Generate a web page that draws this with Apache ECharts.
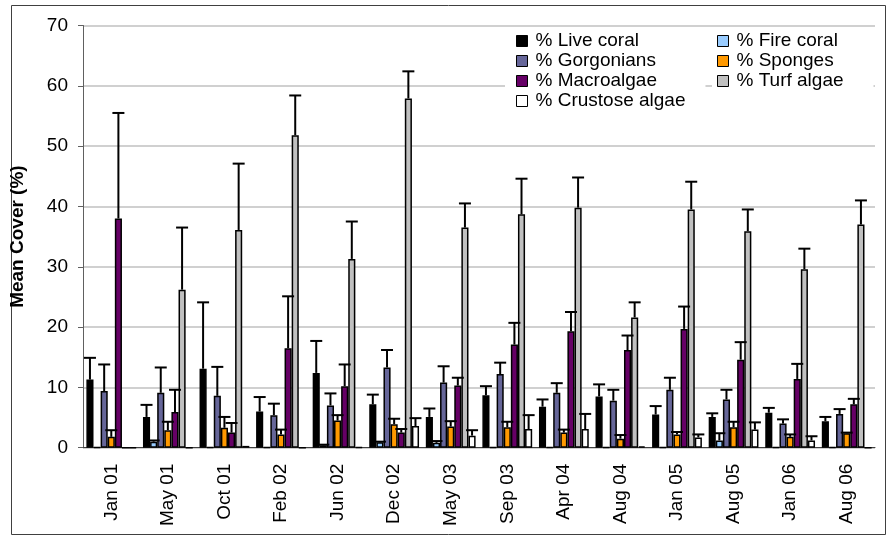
<!DOCTYPE html>
<html>
<head>
<meta charset="utf-8">
<script src="https://cdn.jsdelivr.net/npm/echarts@6/dist/echarts.min.js"></script>
<style>
  html, body { margin: 0; padding: 0; background: #fff; }
  #chart { width: 891px; height: 539px; }
</style>
</head>
<body>
<div id="chart"></div>
<script>
// survey dates
const categories = ['Jan 01', 'May 01', 'Oct 01', 'Feb 02', 'Jun 02', 'Dec 02', 'May 03',
                    'Sep 03', 'Apr 04', 'Aug 04', 'Jan 05', 'Aug 05', 'Jan 06', 'Aug 06'];

// mean cover (%) and standard error (upper bar only)
const liveCoral      = [11.3, 5.1, 13.1, 6.0, 12.4, 7.2, 5.1, 8.7, 6.8, 8.5, 5.5, 5.1, 5.8, 4.4];
const liveCoralSE    = [3.6, 2.0, 11.0, 2.4, 5.3, 1.6, 1.4, 1.5, 1.2, 2.0, 1.4, 0.6, 0.8, 0.7];
const fireCoral      = [0.1, 1.0, 0.1, 0.1, 0.4, 0.9, 0.8, 0.1, 0.1, 0.1, 0.1, 1.2, 0.1, 0.1];
const fireCoralSE    = [0, 0.2, 0, 0, 0.1, 0.1, 0.3, 0, 0, 0, 0, 1.2, 0, 0];
const gorgonians     = [9.4, 9.1, 8.6, 5.4, 7.0, 13.3, 10.8, 12.2, 9.1, 7.8, 9.6, 8.0, 4.0, 5.6];
const gorgoniansSE   = [4.4, 4.2, 4.8, 1.9, 2.0, 2.9, 2.7, 1.9, 1.6, 1.8, 2.0, 1.6, 0.7, 0.8];
const sponges        = [1.8, 2.9, 3.3, 2.2, 4.5, 3.9, 3.5, 3.4, 2.5, 1.5, 2.2, 3.4, 1.8, 2.4];
const spongesSE      = [1.1, 1.4, 1.8, 0.8, 0.9, 0.9, 0.9, 0.9, 0.5, 0.6, 0.4, 0.9, 0.4, 0.1];
const macroalgae     = [38.0, 5.9, 2.5, 16.5, 10.2, 2.5, 10.3, 17.1, 19.3, 16.2, 19.7, 14.6, 11.4, 7.2];
const macroalgaeSE   = [17.5, 3.7, 1.6, 8.6, 3.6, 0.6, 1.3, 3.6, 3.2, 2.4, 3.7, 2.9, 2.5, 0.9];
const turfAlgae      = [0, 26.2, 36.1, 51.8, 31.3, 57.9, 36.5, 38.7, 39.8, 21.6, 39.5, 35.9, 29.6, 37.0];
const turfAlgaeSE    = [0, 10.3, 11.0, 6.6, 6.2, 4.5, 4.0, 5.9, 5.0, 2.5, 4.6, 3.6, 3.4, 4.0];
const crustoseAlgae  = [0, 0, 0.3, 0, 0.1, 3.6, 2.0, 3.1, 3.1, 0.2, 1.7, 3.0, 1.2, 0];
const crustoseAlgaeSE= [0, 0, 0, 0, 0, 1.3, 0.9, 2.3, 2.5, 0, 0.5, 1.2, 0.7, 0];

const yTicks = [0, 10, 20, 30, 40, 50, 60, 70];

const FONT = 'Liberation Sans, Arial, sans-serif';
const CAT_GAP = 0.12;

const groups = [
  { name: '% Live coral',     color: '#000000', v: liveCoral,     se: liveCoralSE },
  { name: '% Fire coral',     color: '#99ccff', v: fireCoral,     se: fireCoralSE },
  { name: '% Gorgonians',     color: '#666699', v: gorgonians,    se: gorgoniansSE },
  { name: '% Sponges',        color: '#ff9900', v: sponges,       se: spongesSE },
  { name: '% Macroalgae',     color: '#660066', v: macroalgae,    se: macroalgaeSE },
  { name: '% Turf algae',     color: '#c0c0c0', v: turfAlgae,     se: turfAlgaeSE },
  { name: '% Crustose algae', color: '#ffffff', v: crustoseAlgae, se: crustoseAlgaeSE }
];

// error bar items: [catIndex, seriesIndex, mean, top]
const errData = [];
groups.forEach(function (g, s) {
  g.v.forEach(function (v, i) {
    if (g.se[i] > 0) errData.push([i, s, v, v + g.se[i]]);
  });
});

function renderErr(params, api) {
  const n = groups.length;
  const band = api.size([1, 0])[0];
  const bw = band * (1 - CAT_GAP) / n;
  const base = api.coord([api.value(0), api.value(2)]);
  const top = api.coord([api.value(0), api.value(3)]);
  const x = base[0] + (api.value(1) - (n - 1) / 2) * bw;
  const st = { stroke: '#000', lineWidth: 2 };
  return {
    type: 'group',
    children: [
      { type: 'line', shape: { x1: x, y1: base[1], x2: x, y2: top[1] }, style: st },
      { type: 'line', shape: { x1: x - 6, y1: top[1], x2: x + 6, y2: top[1] }, style: st }
    ]
  };
}

const legendText = { fontFamily: FONT, fontSize: 19, color: '#000', lineHeight: 20, padding: [0, 0, 0, 3] };

const series = groups.map(function (g) {
  return {
    name: g.name,
    type: 'bar',
    data: g.v,
    barGap: '0%',
    barCategoryGap: (CAT_GAP * 100) + '%',
    itemStyle: { color: g.color, borderColor: '#000', borderWidth: 1.5 }
  };
});
series.push({
  type: 'custom',
  renderItem: renderErr,
  data: errData,
  z: 5,
  silent: true
});

const chart = echarts.init(document.getElementById('chart'));
chart.setOption({
  animation: false,
  textStyle: { fontFamily: FONT },
  grid: { left: 83, right: 16, top: 25.5, bottom: 91.3, containLabel: false },
  graphic: [{
    type: 'rect',
    shape: { x: 11.5, y: 5.5, width: 874, height: 529 },
    style: { fill: null, stroke: '#404040', lineWidth: 1 },
    silent: true
  }],
  legend: [{
    orient: 'vertical',
    left: 505, top: 28,
    padding: [3, 20, 2, 11],
    backgroundColor: '#fff',
    itemWidth: 11, itemHeight: 11, itemGap: 0,
    icon: 'rect',
    itemStyle: { borderColor: '#000', borderWidth: 1 },
    textStyle: legendText,
    selectedMode: false,
    data: ['% Live coral', '% Gorgonians', '% Macroalgae', '% Crustose algae']
  }, {
    orient: 'vertical',
    left: 712, top: 28,
    padding: [3, 30, 22, 5],
    backgroundColor: '#fff',
    itemWidth: 11, itemHeight: 11, itemGap: 0,
    icon: 'rect',
    itemStyle: { borderColor: '#000', borderWidth: 1 },
    textStyle: legendText,
    selectedMode: false,
    data: ['% Fire coral', '% Sponges', '% Turf algae']
  }],
  xAxis: {
    type: 'category',
    data: categories,
    boundaryGap: true,
    axisLine: { lineStyle: { color: '#404040', width: 1 } },
    axisTick: { length: 6, lineStyle: { color: '#404040' } },
    axisLabel: { rotate: 90, interval: 0, margin: 16, fontSize: 19, color: '#000', fontFamily: FONT }
  },
  yAxis: {
    type: 'value',
    min: yTicks[0], max: yTicks[yTicks.length - 1], interval: 10,
    name: 'Mean Cover (%)',
    nameLocation: 'middle',
    nameGap: 56,
    nameRotate: 90,
    nameTextStyle: { fontSize: 19, fontWeight: 'bold', color: '#000', fontFamily: FONT },
    axisLine: { show: true, lineStyle: { color: '#606060', width: 1 } },
    axisTick: { show: true, length: 5, lineStyle: { color: '#606060' } },
    axisLabel: { fontSize: 19, color: '#000', margin: 15, fontFamily: FONT },
    splitLine: { lineStyle: { color: '#c0c0c0', width: 1.5 } }
  },
  series: series
});
</script>
</body>
</html>
